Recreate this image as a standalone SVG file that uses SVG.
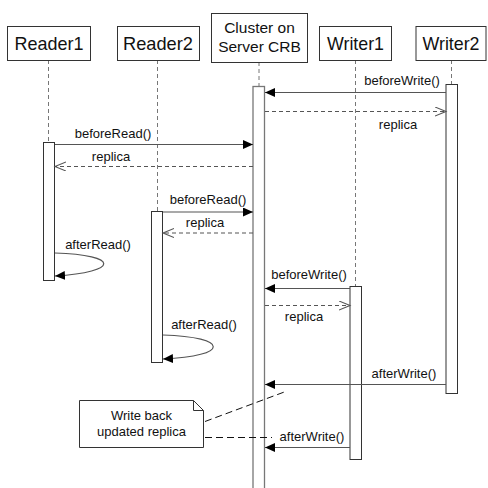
<svg xmlns="http://www.w3.org/2000/svg" width="488" height="488" viewBox="0 0 488 488">
  <defs>
    <style>
      .head { fill: #fff; stroke: #333; stroke-width: 1; }
      .headtxt { font-family: "Liberation Sans", Arial, sans-serif; font-size: 19px; fill: #111; text-anchor: middle; }
      .clustxt { font-family: "Liberation Sans", Arial, sans-serif; font-size: 15.5px; fill: #111; text-anchor: middle; }
      .life { stroke: #777; stroke-width: 1; stroke-dasharray: 4 3; fill: none; }
      .bar { fill: #fff; stroke: #333; stroke-width: 1; }
      .bar-c { fill: #fff; stroke: #777; stroke-width: 1.3; }
      .msg { stroke: #555; stroke-width: 1.2; fill: none; }
      .call { marker-end: url(#filled); }
      .reply { stroke-dasharray: 4 3; marker-end: url(#open); }
      .lbl { font-family: "Liberation Sans", Arial, sans-serif; font-size: 13px; fill: #111; text-anchor: middle; }
      .note { fill: #fff; stroke: #333; stroke-width: 1; }
      .anchor { stroke: #111; stroke-width: 1; stroke-dasharray: 7 4; fill: none; }
    </style>
    <marker id="filled" markerUnits="userSpaceOnUse" markerWidth="11" markerHeight="10" refX="10" refY="4.5" orient="auto">
      <path d="M0,0 L10,4.5 L0,9 Z" fill="#000"/>
    </marker>
    <marker id="open" markerUnits="userSpaceOnUse" markerWidth="13" markerHeight="11" refX="11" refY="4.5" orient="auto">
      <path d="M0,0 L11,4.5 L0,9" fill="none" stroke="#555" stroke-width="1.1"/>
    </marker>
  </defs>

  <!-- lifelines -->
  <g id="lifelines">
    <line class="life" x1="48.5" y1="60" x2="48.5" y2="142"/>
    <line class="life" x1="157.5" y1="60" x2="157.5" y2="212"/>
    <line class="life" x1="259" y1="62" x2="259" y2="86"/>
    <line class="life" x1="355.5" y1="60" x2="355.5" y2="286"/>
    <line class="life" x1="451.5" y1="60" x2="451.5" y2="84"/>
  </g>

  <!-- participants -->
  <g id="reader1">
    <rect class="head" x="7.5" y="26.5" width="83" height="34"/>
    <text class="headtxt" x="49" y="50" textLength="69" lengthAdjust="spacingAndGlyphs">Reader1</text>
    <rect class="bar" x="43.5" y="142.5" width="11" height="138"/>
  </g>
  <g id="reader2">
    <rect class="head" x="117.5" y="26.5" width="82" height="34"/>
    <text class="headtxt" x="158" y="50" textLength="70" lengthAdjust="spacingAndGlyphs">Reader2</text>
    <rect class="bar" x="151.5" y="211.5" width="11" height="151"/>
  </g>
  <g id="cluster">
    <rect class="head" x="211.5" y="13.5" width="96" height="49"/>
    <text class="clustxt" x="259.5" y="33">Cluster on</text>
    <text class="clustxt" x="259.5" y="52">Server CRB</text>
    <rect class="bar-c" x="253" y="86.5" width="11.5" height="410"/>
  </g>
  <g id="writer1">
    <rect class="head" x="319.5" y="26.5" width="72" height="34"/>
    <text class="headtxt" x="355.5" y="50" textLength="57" lengthAdjust="spacingAndGlyphs">Writer1</text>
    <rect class="bar" x="350" y="286.5" width="11.5" height="173"/>
  </g>
  <g id="writer2">
    <rect class="head" x="416" y="26.5" width="70" height="34"/>
    <text class="headtxt" x="451" y="50" textLength="57" lengthAdjust="spacingAndGlyphs">Writer2</text>
    <rect class="bar" x="446" y="84.5" width="11.5" height="309"/>
  </g>

  <!-- note -->
  <g id="note">
    <path class="note" d="M79.5,400.5 H193.5 L203.5,410.5 V447.5 H79.5 Z"/>
    <path d="M193.5,400.5 V410.5 H203.5" fill="none" stroke="#333" stroke-width="1"/>
    <text class="lbl" x="141.5" y="420">Write back</text>
    <text class="lbl" x="141.5" y="436">updated replica</text>
  </g>

  <!-- messages -->
  <g id="connectors">
    <line class="msg call" x1="446" y1="92.5" x2="265" y2="92.5"/>
    <line class="msg reply" x1="265" y1="111.5" x2="446" y2="111.5"/>
    <line class="msg call" x1="55" y1="144.5" x2="253" y2="144.5"/>
    <line class="msg reply" x1="253" y1="166.5" x2="55" y2="166.5"/>
    <line class="msg call" x1="163" y1="212" x2="253" y2="212"/>
    <line class="msg reply" x1="253" y1="233" x2="163" y2="233"/>
    <path class="msg call" d="M55,253 C120,255 120,272 55,276"/>
    <line class="msg call" x1="350" y1="288.5" x2="265" y2="288.5"/>
    <line class="msg reply" x1="265" y1="305.5" x2="350" y2="305.5"/>
    <path class="msg call" d="M163,335 C230,337 230,356 163,359"/>
    <line class="msg call" x1="446" y1="384.5" x2="265" y2="384.5"/>
    <line class="msg call" x1="350" y1="447.5" x2="265" y2="447.5"/>
    <line class="anchor" x1="205" y1="421.5" x2="287" y2="391"/>
    <line class="anchor" x1="205" y1="437.5" x2="272" y2="437.5"/>
  </g>

  <!-- message labels -->
  <g id="labels">
    <text class="lbl" x="402" y="85">beforeWrite()</text>
    <text class="lbl" x="398" y="129">replica</text>
    <text class="lbl" x="113" y="138">beforeRead()</text>
    <text class="lbl" x="111" y="161">replica</text>
    <text class="lbl" x="208" y="204">beforeRead()</text>
    <text class="lbl" x="205" y="227">replica</text>
    <text class="lbl" x="98" y="249">afterRead()</text>
    <text class="lbl" x="309" y="279">beforeWrite()</text>
    <text class="lbl" x="304" y="321">replica</text>
    <text class="lbl" x="204" y="329">afterRead()</text>
    <text class="lbl" x="404" y="378">afterWrite()</text>
    <text class="lbl" x="312" y="441">afterWrite()</text>
  </g>
</svg>
